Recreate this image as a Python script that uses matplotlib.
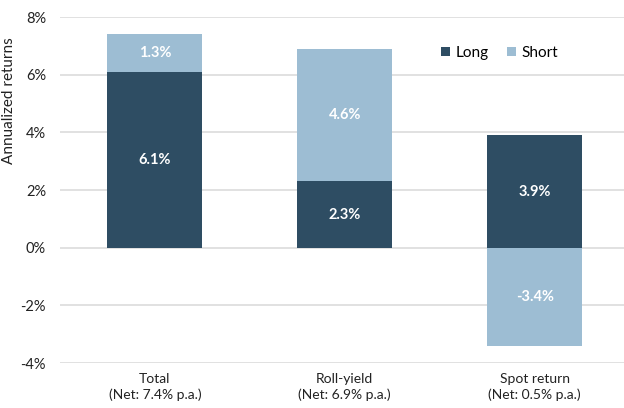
import matplotlib.pyplot as plt
import numpy as np

plt.rcParams["font.family"] = ["Lato", "DejaVu Sans"]

categories = ["Total\n(Net: 7.4% p.a.)", "Roll-yield\n(Net: 6.9% p.a.)", "Spot return\n(Net: 0.5% p.a.)"]
long_vals = [6.1, 2.3, 3.9]
short_vals = [1.3, 4.6, -3.4]

dark = "#2e4d63"
light = "#9dbdd3"

fig = plt.figure(figsize=(6.24, 4.08), dpi=100)
ax = fig.add_axes([0.096, 0.110, 0.904, 0.848])

x = np.arange(len(categories))
# short stacks on top of long when positive, below zero when negative
short_bottom = [l if s >= 0 else 0 for l, s in zip(long_vals, short_vals)]

ax.bar(x, long_vals, width=0.5, color=dark, label="Long", zorder=2)
ax.bar(x, short_vals, width=0.5, bottom=short_bottom, color=light, label="Short", zorder=2)

for i in range(len(categories)):
    ax.text(x[i], long_vals[i] / 2, f"{long_vals[i]:.1f}%", ha="center", va="center",
            color="white", fontsize=10.5, fontweight="bold", zorder=3)
    sy = short_bottom[i] + short_vals[i] / 2
    ax.text(x[i], sy, f"{short_vals[i]:.1f}%", ha="center", va="center",
            color="white", fontsize=10.5, fontweight="bold", zorder=3)

ax.set_ylim(-4, 8)
ax.set_xlim(-0.5, 2.47)
ax.set_yticks(np.arange(-4, 9, 2))
ax.set_yticklabels([f"{v}%" for v in range(-4, 9, 2)])
ax.set_xticks(x)
ax.set_xticklabels(categories, linespacing=1.35)
ax.grid(axis="y", color="#dcdcdc", linewidth=1.2, zorder=0)
for s in ax.spines.values():
    s.set_visible(False)
ax.tick_params(length=0, colors="#222222")
ax.tick_params(axis="y", pad=10, labelsize=10.5)
ax.tick_params(axis="x", pad=7, labelsize=10)
ax.set_ylabel("Annualized returns", fontsize=11, color="#222222")
ax.yaxis.set_label_coords(-0.078, 0.76)

ax.legend(loc="center left", bbox_to_anchor=(0.652, 0.896), ncol=2, frameon=False,
          fontsize=11, handlelength=0.55, handleheight=0.55, columnspacing=1.2, handletextpad=0.4)

fig.savefig("out.png", dpi=100)
